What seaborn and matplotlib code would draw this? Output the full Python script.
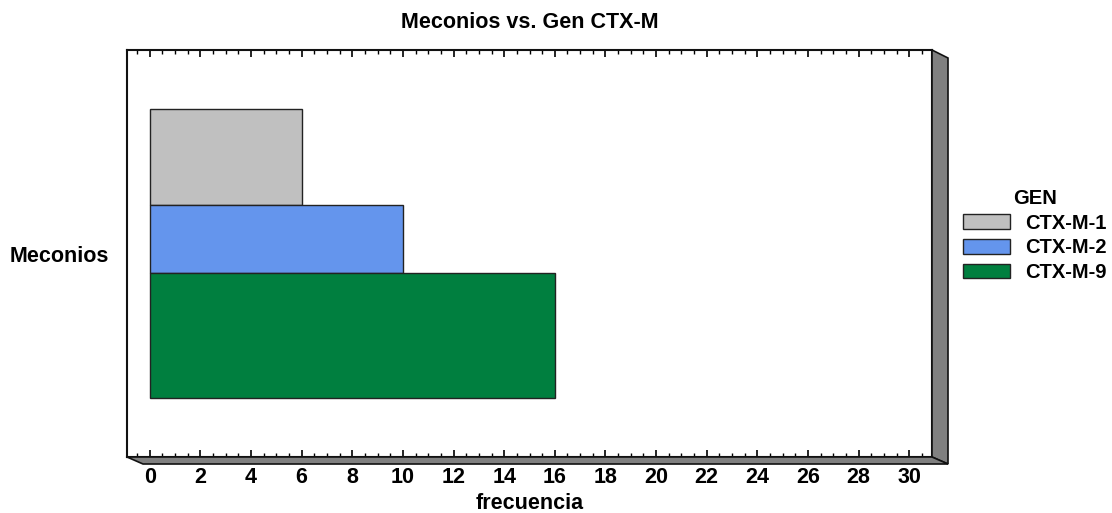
import pandas as pd
import numpy as np
import matplotlib
matplotlib.use('Agg')
import matplotlib.pyplot as plt
from matplotlib.patches import Polygon, Patch
from matplotlib.ticker import MultipleLocator
import seaborn as sns

# data
muestra = ['Meconios', 'Meconios', 'Meconios']
gen = ['CTX-M-1', 'CTX-M-2', 'CTX-M-9']
frecuencia = [6, 10, 16]
colores = ['#C0C0C0', '#6495ED', '#007F3F']
# relative thickness of each band (as drawn by the original program)
banda = [96, 67, 125]

df = pd.DataFrame({'muestra': muestra, 'GEN': gen, 'frecuencia': frecuencia})

sns.set_theme(style='white')
plt.rcParams['font.family'] = ['Liberation Sans', 'DejaVu Sans']
plt.rcParams['font.weight'] = 'bold'
plt.rcParams['text.color'] = 'black'
plt.rcParams['xtick.color'] = 'black'
plt.rcParams['ytick.color'] = 'black'
plt.rcParams['axes.labelcolor'] = 'black'

W, H = 1112, 513
fig = plt.figure(figsize=(W / 100, H / 100), dpi=100)
L, R, T, B = 127, 932, 50, 457
ax = fig.add_axes([L / W, 1 - B / H, (R - L) / W, (B - T) / H])

sns.barplot(data=df, x='frecuencia', y='muestra', hue='GEN', palette=colores,
            width=0.8, edgecolor='#222222', linewidth=1, legend=False, ax=ax,
            saturation=1)

# redistribute band heights within the group
bars = [c[0] for c in ax.containers]
y0 = min(b.get_y() for b in bars)
total = sum(b.get_height() for b in bars)
frac = np.array(banda) / sum(banda)
pos = y0
for b, f in zip(bars, frac):
    b.set_y(pos)
    b.set_height(total * f)
    pos += total * f

ax.set_xlim(-0.9, 30.9)
ax.set_ylim(0.565, -0.565)
ax.set_xticks(range(0, 31, 2))
ax.xaxis.set_minor_locator(MultipleLocator(0.5))
ax.tick_params(axis='x', which='major', direction='in', length=5, width=1.2,
               top=True, bottom=True, pad=7, labelsize=15.5, color='black')
ax.tick_params(axis='x', which='minor', direction='in', length=3, width=1,
               top=True, bottom=True, color='black')
ax.tick_params(axis='y', length=0, pad=13, labelsize=15.5)
for lab in ax.get_xticklabels() + ax.get_yticklabels():
    lab.set_fontweight('bold')
ax.set_xlabel('frecuencia', fontsize=15.5, fontweight='bold', labelpad=4)
ax.set_ylabel('')
for s in ax.spines.values():
    s.set_color('#111111')
    s.set_linewidth(1.5)

# 3D-like side and floor panels
def fc(x, y):
    return (x / W, 1 - y / H)

d = 16
dy = 7
side = Polygon([fc(R, T), fc(R + d, T + 8), fc(R + d, B + dy), fc(R, B)],
               closed=True, transform=fig.transFigure, facecolor='#808080',
               edgecolor='#111111', linewidth=1.2)
floor = Polygon([fc(L, B), fc(R, B), fc(R + d, B + dy), fc(L + d, B + dy)],
                closed=True, transform=fig.transFigure, facecolor='#808080',
                edgecolor='#111111', linewidth=1.2)
fig.patches.extend([side, floor])

fig.text(530 / W, 1 - 22 / H, 'Meconios vs. Gen CTX-M',
         ha='center', va='center', fontsize=15.5, fontweight='bold')

handles = [Patch(facecolor=c, edgecolor='#222222', linewidth=1) for c in colores]
leg = fig.legend(handles, gen, title='GEN', loc='upper left',
                 bbox_to_anchor=(949 / W, 1 - 175 / H), frameon=False,
                 fontsize=14.5, title_fontsize=14.5, handlelength=2.33,
                 handleheight=0.75, handletextpad=0.75, labelspacing=0.28,
                 borderpad=0.2)
leg.get_title().set_fontweight('bold')
for t in leg.get_texts():
    t.set_fontweight('bold')

fig.savefig('out.png', dpi=100)
